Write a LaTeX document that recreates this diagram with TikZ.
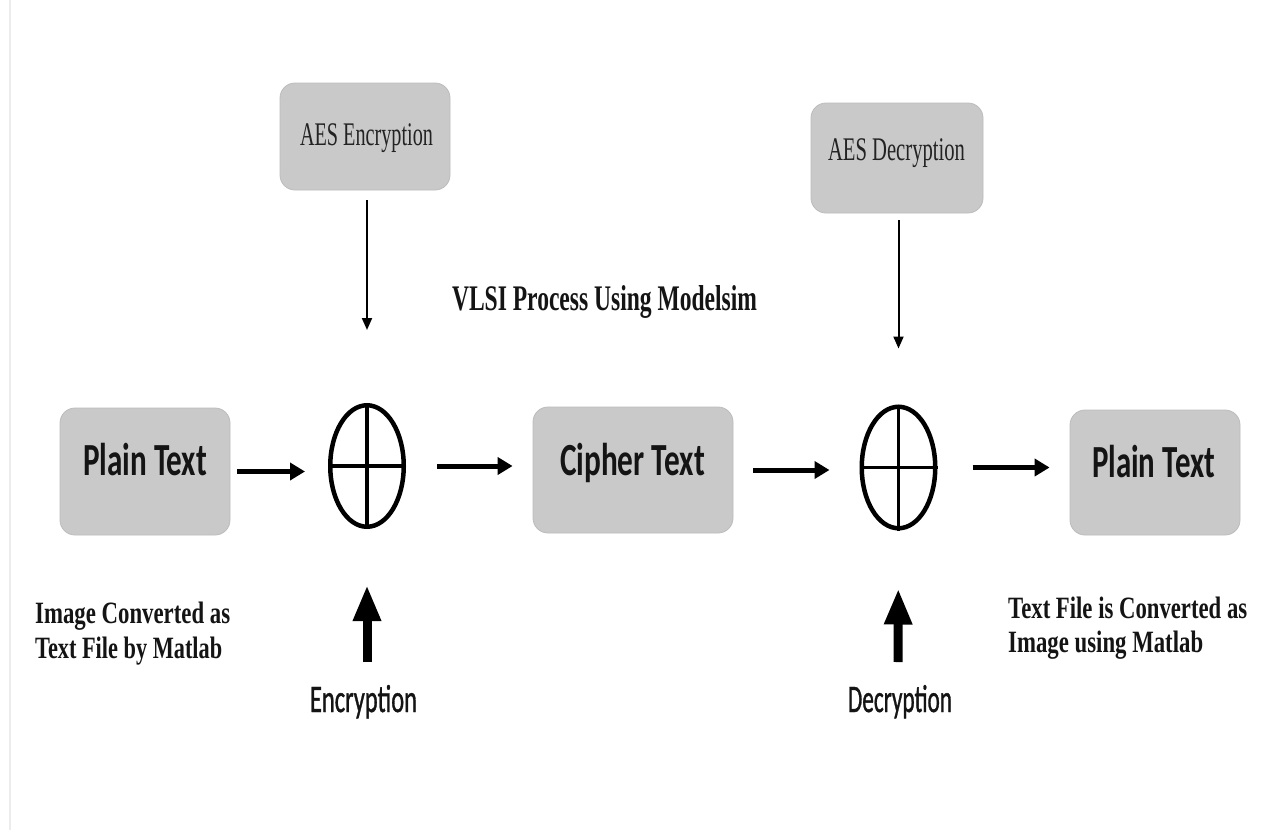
\documentclass[tikz,border=0pt]{standalone}
\usepackage{fontspec}
\usepackage{graphicx}
\usetikzlibrary{arrows.meta,shapes.geometric}
\setmainfont{Liberation Serif}
\newfontfamily\calib{Carlito}
\newfontfamily\calibheavy[FakeBold=1.2]{Carlito}
% set a text at a given width (in pt), keeping its height
\newcommand\fitw[2]{\resizebox{#1pt}{\height}{#2}}
\definecolor{boxgray}{RGB}{201,201,201}
\definecolor{boxedge}{RGB}{188,188,188}
\definecolor{keyink}{RGB}{35,35,35}
\definecolor{inkblack}{RGB}{20,20,20}
\definecolor{rulegray}{RGB}{236,236,236}
\begin{document}
\begin{tikzpicture}[x=1pt,y=-1pt,
  graybox/.style={draw=boxedge,fill=boxgray,rounded corners=15pt,line width=0.8pt,inner sep=0pt},
  xorring/.style={ellipse,draw=black,line width=4.5pt,minimum width=73.5pt,minimum height=121.5pt,inner sep=0pt},
  boxlabel/.style={anchor=base,inner sep=0pt,text=inkblack,font=\calib\bfseries\fontsize{46}{50}\selectfont},
  keylabel/.style={anchor=base,inner sep=0pt,text=keyink,font=\fontsize{33}{38}\selectfont},
  notelabel/.style={anchor=base west,inner sep=0pt,text=inkblack,font=\bfseries\fontsize{31}{35}\selectfont},
  modelabel/.style={anchor=base,inner sep=0pt,text=inkblack,font=\calibheavy\fontsize{39}{44}\selectfont},
  flowarrow/.style={line width=5pt,-{Triangle[length=15pt,width=17pt]}},
  keyarrow/.style={line width=2pt,-{Triangle[length=12pt,width=10pt]}},
  modearrow/.style={line width=9pt,-{Triangle[length=36pt,width=26pt]}}]
\useasboundingbox (0,0) rectangle (1285,830);
\fill[white] (0,0) rectangle (1285,830);
\draw[rulegray,line width=1.5pt] (10,0) -- (10,830);

% key boxes
\node[graybox,minimum width=170pt,minimum height=107pt] (aesE) at (365,136.5) {};
\node[keylabel] (aesEt) at (366.5,145) {\fitw{133}{AES Encryption}};
\node[graybox,minimum width=172pt,minimum height=110pt] (aesD) at (897,158) {};
\node[keylabel] (aesDt) at (896.5,160) {\fitw{137}{AES Decryption}};

% data boxes
\node[graybox,minimum width=170pt,minimum height=127pt] (plainL) at (145,471.5) {};
\node[boxlabel] (plainLt) at (145,475) {\fitw{124}{Plain Text}};
\node[graybox,minimum width=200pt,minimum height=126pt] (cipher) at (633,470) {};
\node[boxlabel] (ciphert) at (632.5,475) {\fitw{145}{Cipher Text}};
\node[graybox,minimum width=170pt,minimum height=125pt] (plainR) at (1155,472.5) {};
\node[boxlabel] (plainRt) at (1153.5,477) {\fitw{123}{Plain Text}};

% XOR operators
\node[xorring] (x1) at (367,466) {};
\draw[line width=3.8pt] (x1.north) -- (x1.south) (x1.west) -- (x1.east);
\node[xorring] (x2) at (898.5,467.5) {};
\draw[line width=3.8pt] (x2.north) -- (x2.south) (x2.west) -- (x2.east);

% data flow
\draw[flowarrow,shorten <=7pt,shorten >=23pt] (plainL.east) -- (plainL.east -| x1.west);
\draw[flowarrow,shorten <=31pt,shorten >=20pt] (x1.east) -- (x1.east -| cipher.west);
\draw[flowarrow,shorten <=20pt,shorten >=30pt] (cipher.east) -- (cipher.east -| x2.west);
\draw[flowarrow,shorten <=35pt,shorten >=20pt] (x2.east) -- (x2.east -| plainR.west);

% keys
\draw[keyarrow,shorten <=10pt,shorten >=73pt] (aesE.south -| x1) -- (x1.north);
\draw[keyarrow,shorten <=7pt,shorten >=56pt] (aesD.south -| x2) -- (x2.north);

% mode arrows
\coordinate (e0) at (367,662);
\coordinate (d0) at (898,662);
\draw[modearrow,shorten >=56pt] (e0) -- (x1.south);
\draw[modearrow,shorten >=58pt] (d0) -- (x2.south);
\node[modelabel] (enc) at (363.5,712) {\fitw{107}{Encryption}};
\node[modelabel] (dec) at (900,712) {\fitw{104}{Decryption}};

% titles and notes
\node[anchor=base,inner sep=0pt,text=inkblack,font=\bfseries\fontsize{36}{40}\selectfont] (vlsi) at (604.5,310) {\fitw{305}{VLSI Process Using Modelsim}};
\node[notelabel] (noteL1) at (35,623) {\fitw{195}{Image Converted as}};
\node[notelabel] (noteL2) at (35,658) {\fitw{187}{Text File by Matlab}};
\node[notelabel] (noteR1) at (1008,618) {\fitw{239}{Text File is Converted as}};
\node[notelabel] (noteR2) at (1008,652) {\fitw{195}{Image using Matlab}};
\end{tikzpicture}
\end{document}
